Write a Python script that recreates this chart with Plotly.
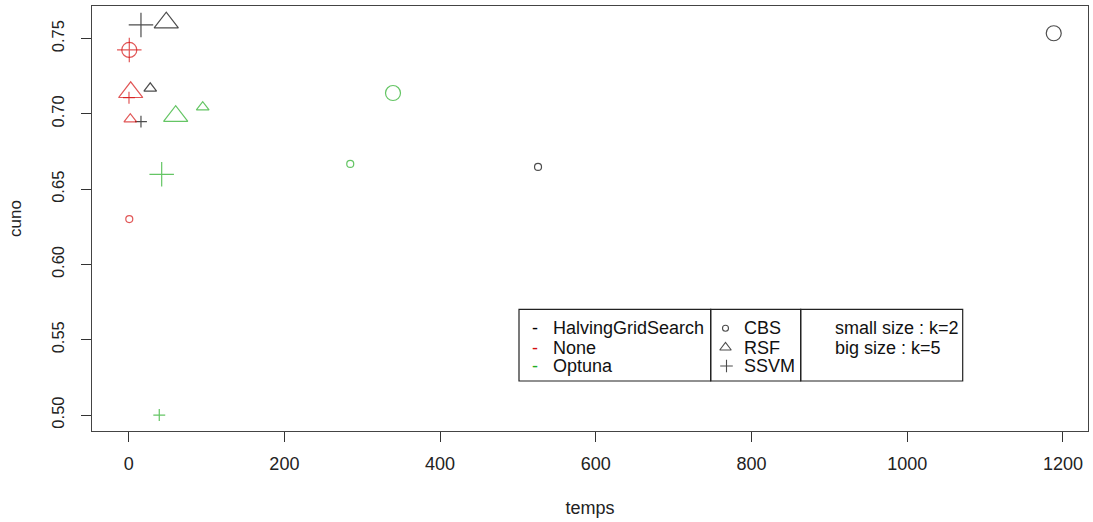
import plotly.graph_objects as go

# ---------------- data ----------------
methods = ["HalvingGridSearch", "None", "Optuna"]
algos = ["CBS", "RSF", "SSVM"]

point_method = ["HalvingGridSearch"] * 6 + ["None"] * 6 + ["Optuna"] * 6
point_algo = ["CBS", "CBS", "RSF", "RSF", "SSVM", "SSVM"] * 3
point_k = [2, 5, 2, 5, 2, 5] * 3
temps = [525.8, 1188.2, 27.7, 48.3, 15.8, 15.8,
         0.8, 0.8, 2.1, 2.6, 0.4, 0.8,
         284.6, 339.5, 95.1, 60.4, 39.3, 42.4]
cuno = [0.6648, 0.7536, 0.7170, 0.7606, 0.6949, 0.7591,
        0.6302, 0.7425, 0.6965, 0.7144, 0.7108, 0.7425,
        0.6668, 0.7139, 0.7045, 0.6985, 0.5000, 0.6599]

x_ticks = [0, 200, 400, 600, 800, 1000, 1200]
y_ticks = [0.50, 0.55, 0.60, 0.65, 0.70, 0.75]
y_ticktext = ["0.50", "0.55", "0.60", "0.65", "0.70", "0.75"]

size_legend = ["small size : k=2", "big size : k=5"]

# ---------------- styles ----------------
method_color = {"HalvingGridSearch": "#000000", "None": "#D41010", "Optuna": "#22AD22"}
algo_symbol = {"CBS": "circle-open", "RSF": "triangle-up-open", "SSVM": "cross-thin-open"}
marker_size = {("CBS", 2): 7, ("CBS", 5): 15,
               ("RSF", 2): 11, ("RSF", 5): 21,
               ("SSVM", 2): 8.5, ("SSVM", 5): 17.5}

FONT = "Liberation Sans, Arial, sans-serif"
W, H = 1093, 522
L, R, T, B = 92, 1088, 6, 431   # plot box in pixels

fig = go.Figure()

for m in methods:
    for a in algos:
        idx = [i for i in range(len(temps)) if point_method[i] == m and point_algo[i] == a]
        fig.add_trace(go.Scatter(
            x=[temps[i] for i in idx], y=[cuno[i] for i in idx],
            mode="markers", showlegend=False, hoverinfo="x+y",
            marker=dict(symbol=algo_symbol[a],
                        size=[marker_size[(a, point_k[i])] for i in idx],
                        color=method_color[m],
                        line=dict(color=method_color[m], width=1.2)),
        ))

# ---------- custom legend (pixel-coordinate overlay axes) ----------
row_y = [328.3, 347.5, 366.0]
boxes = [(519, 710.7), (710.7, 800.7), (800.7, 962.7)]
for (x0, x1) in boxes:
    fig.add_shape(type="rect", xref="x2", yref="y2", x0=x0, x1=x1, y0=309.3, y1=381,
                  line=dict(color="#222", width=1.2), fillcolor="rgba(0,0,0,0)")

for j, m in enumerate(methods):
    fig.add_annotation(xref="x2", yref="y2", x=535, y=row_y[j], text="-", showarrow=False,
                       xanchor="center", yanchor="middle",
                       font=dict(family=FONT, size=18, color=method_color[m]))
    fig.add_annotation(xref="x2", yref="y2", x=551, y=row_y[j], text=m, showarrow=False,
                       xanchor="left", yanchor="middle",
                       font=dict(family=FONT, size=18, color="#111"))

legend_sym_size = {"CBS": 6, "RSF": 10, "SSVM": 9}
fig.add_trace(go.Scatter(
    x=[725.5, 725.5, 726.5], y=row_y, xaxis="x2", yaxis="y2",
    mode="markers", showlegend=False, hoverinfo="skip",
    marker=dict(symbol=[algo_symbol[a] for a in algos],
                size=[legend_sym_size[a] for a in algos],
                color="#000", line=dict(color="#000", width=1.1)),
))
for j, a in enumerate(algos):
    fig.add_annotation(xref="x2", yref="y2", x=742, y=row_y[j], text=a, showarrow=False,
                       xanchor="left", yanchor="middle",
                       font=dict(family=FONT, size=18, color="#111"))
for j, s in enumerate(size_legend):
    fig.add_annotation(xref="x2", yref="y2", x=833, y=row_y[j], text=s, showarrow=False,
                       xanchor="left", yanchor="middle",
                       font=dict(family=FONT, size=18, color="#111"))

fig.update_layout(
    width=W, height=H,
    margin=dict(l=L, r=W - R, t=T, b=H - B, pad=0, autoexpand=False),
    paper_bgcolor="white", plot_bgcolor="white",
    font=dict(family=FONT, size=18, color="#222"),
    xaxis=dict(range=[-47.1, 1232.2], tickvals=x_ticks, ticktext=[str(v) for v in x_ticks],
               showgrid=False, zeroline=False, showline=True, mirror=True, automargin=False,
               linecolor="#444", linewidth=1.3, ticks="outside", ticklen=10,
               tickcolor="#333", tickwidth=1.2, tickfont=dict(size=18),
               ticklabelstandoff=6,
               title=dict(text="temps", font=dict(size=18), standoff=28)),
    yaxis=dict(range=[0.4894, 0.7717], tickvals=y_ticks, ticktext=y_ticktext,
               showgrid=False, zeroline=False, showline=True, mirror=True, automargin=False,
               linecolor="#444", linewidth=1.3, ticks="outside", ticklen=10,
               tickcolor="#333", tickwidth=1.2, tickangle=-90, tickfont=dict(size=16.5),
               ticklabelstandoff=10,
               title=dict(text="cuno", font=dict(size=17), standoff=23)),
    xaxis2=dict(range=[L, R], overlaying="x", visible=False, fixedrange=True),
    yaxis2=dict(range=[B, T], overlaying="y", visible=False, fixedrange=True),
)

fig.write_html("out.html", config={"displayModeBar": False},
               post_script="document.body.style.margin='0';document.body.style.overflow='hidden';")
